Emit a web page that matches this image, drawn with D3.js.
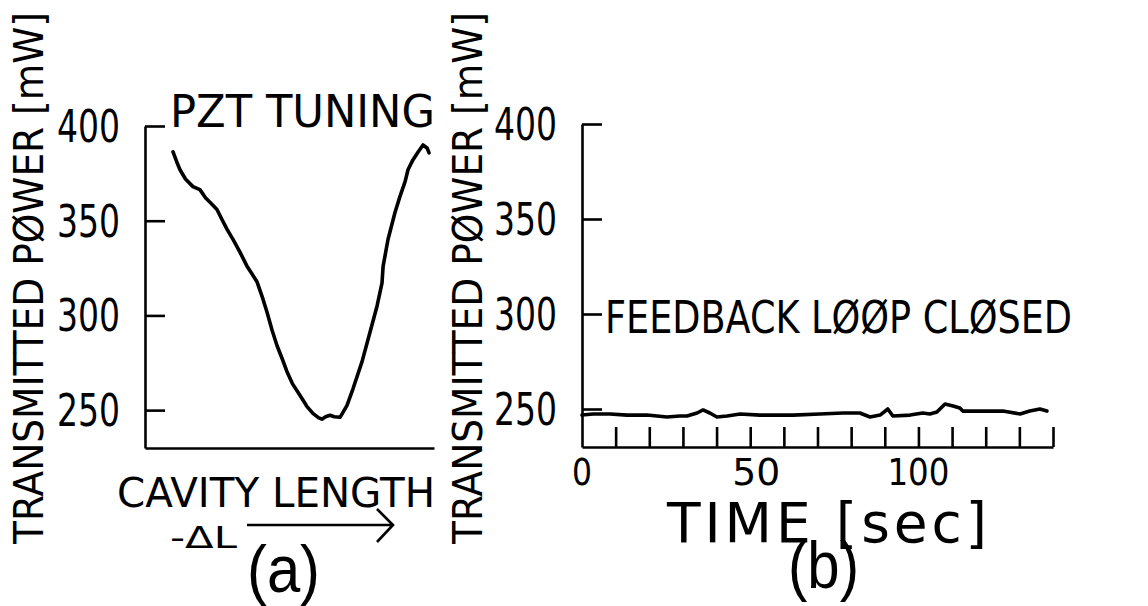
<!DOCTYPE html>
<html>
<head>
<meta charset="utf-8">
<script src="https://cdn.jsdelivr.net/npm/d3@7"></script>
<style>
  body { margin: 0; background: #fff; }
  svg { display: block; background: #fff; }
  text { font-family: 'DejaVu Sans', sans-serif; fill: #000; }
</style>
</head>
<body>
<svg></svg>
<script>
// Transmitted power: (a) PZT tuning scan, (b) feedback loop closed
const SVG = d3.select('svg');
const SVG_WIDTH = 1148;
const SVG_HEIGHT = 606;

// Data
// (a) cavity length in arbitrary units (0..100 across the axis) and power [mW]
const lengthA = [9.7, 11, 12.1, 14, 16.6, 19.0, 21, 23, 24.9, 26.5, 28.4, 30.5, 32.9, 35.3, 37, 38.8,
  40.8, 42.2, 44, 45.7, 47.5, 49.1, 51, 53.6, 56, 58.1, 60, 61.2, 62.5, 64.0, 65.5, 67.5, 69.9, 72.0,
  75.1, 77.9, 80.3, 82.0, 82.4, 84.1, 86.5, 88.2, 90.0, 91.0, 92.7, 94.5, 96.2, 97.6, 98.3];
const powerA = [386.3, 381, 376.9, 372, 368, 366.4, 362, 359, 355.9, 351, 345.4, 340, 333.3, 326, 322, 317.6,
  308.7, 301.8, 292, 284, 277, 270.4, 264, 257.8, 252, 248.3, 246, 245.2, 246.5, 247.3, 246.5, 246.2, 252.5, 261.4,
  275.6, 291.4, 305, 317, 326, 340.2, 354.3, 362.7, 370.6, 376.9, 382.1, 386.3, 390, 388.4, 385.8];
// (b) time [sec] and power [mW]
const timeB = [0, 3.3, 8.3, 13.4, 19.3, 25.3, 29.1, 31.2, 34.2, 36.0, 38.0, 40.1, 43.1, 47.0, 52.9, 62.7,
  70.7, 77.6, 82.6, 85.6, 88.6, 90.9, 92.4, 97.5, 101.3, 103.4, 105.5, 107.9, 110.3, 112.3, 113.2, 118.3,
  125.1, 130.2, 133.1, 136.1, 138.2];
const powerB = [246.8, 247.4, 247.4, 246.8, 246.8, 245.8, 246.3, 246.3, 247.9, 249.5, 247.9, 245.8, 246.3, 247.4, 246.8, 246.8,
  247.4, 247.9, 247.9, 245.8, 246.8, 250, 246.3, 246.8, 247.9, 247.4, 248.4, 252.6, 251.6, 250.5, 248.9, 248.9,
  248.9, 247.4, 248.9, 250, 248.9];

// Ticks
const powerTicks = [250, 300, 350, 400];
const timeTicks = [10, 20, 30, 40, 50, 60, 70, 80, 90, 100, 110, 120, 130, 140];
const timeLabels = [0, 50, 100];
const timeLabelWidths = [20, 48, 62];

SVG.attr('width', SVG_WIDTH).attr('height', SVG_HEIGHT);

//Scales
var xA = d3.scaleLinear().domain([0, 100]).range([145, 434]);
var yA = d3.scaleLinear().domain([230, 400]).range([448, 126]);
var xB = d3.scaleLinear().domain([0, 140]).range([582, 1053]);
var yB = d3.scaleLinear().domain([230, 400]).range([447, 124]);

function styleAxis(g) {
  g.selectAll('path, line').attr('stroke', '#000').attr('stroke-width', 2.6);
  g.selectAll('text').remove();
}

function powerLabels(g, yScale, axisX) {
  powerTicks.forEach(v => {
    g.append('text')
      .attr('x', axisX - 25)
      .attr('y', yScale(v) + 16)
      .attr('text-anchor', 'end')
      .attr('font-size', 44)
      .attr('textLength', 63)
      .attr('lengthAdjust', 'spacingAndGlyphs')
      .text(v);
  });
}

//Panel (a)
var panelA = SVG.append('g');
panelA.append('g').attr('transform', 'translate(145,0)')
  .call(d3.axisLeft(yA).tickValues(powerTicks).tickSize(-20).tickSizeOuter(0))
  .call(styleAxis);
panelA.append('g').attr('transform', 'translate(0,448)')
  .call(d3.axisBottom(xA).tickValues([]).tickSizeOuter(0))
  .call(styleAxis);
powerLabels(panelA, yA, 145);

panelA.append('path')
  .datum(d3.zip(lengthA, powerA))
  .attr('fill', 'none')
  .attr('stroke', '#000')
  .attr('stroke-width', 3.6)
  .attr('stroke-linejoin', 'round')
  .attr('stroke-linecap', 'round')
  .attr('d', d3.line().x(d => xA(d[0])).y(d => yA(d[1])));

panelA.append('text').attr('x', 170).attr('y', 127)
  .attr('font-size', 44).attr('textLength', 265).attr('lengthAdjust', 'spacingAndGlyphs')
  .text('PZT TUNING');
panelA.append('text').attr('x', 117).attr('y', 507)
  .attr('font-size', 41).attr('textLength', 318).attr('lengthAdjust', 'spacingAndGlyphs')
  .text('CAVITY LENGTH');
panelA.append('text').attr('x', 170).attr('y', 548)
  .attr('font-size', 30).attr('textLength', 67).attr('lengthAdjust', 'spacingAndGlyphs')
  .text('-ΔL');
panelA.append('path')
  .attr('d', 'M247,525H393M377,509L393,525L377,542')
  .attr('fill', 'none').attr('stroke', '#000').attr('stroke-width', 2.6);
panelA.append('text').attr('x', 247).attr('y', 592)
  .style('font-family', "'Liberation Sans', sans-serif")
  .attr('font-size', 66).attr('textLength', 73).attr('lengthAdjust', 'spacingAndGlyphs')
  .text('(a)');

//Panel (b)
var panelB = SVG.append('g');
panelB.append('g').attr('transform', 'translate(582,0)')
  .call(d3.axisLeft(yB).tickValues(powerTicks).tickSize(-20).tickSizeOuter(0))
  .call(styleAxis);
panelB.append('g').attr('transform', 'translate(0,447)')
  .call(d3.axisBottom(xB).tickValues(timeTicks).tickSize(-20).tickSizeOuter(0))
  .call(styleAxis);
powerLabels(panelB, yB, 582);

timeLabels.forEach((t, i) => {
  panelB.append('text')
    .attr('x', xB(t) + (t === 50 ? 6 : 0))
    .attr('y', 485)
    .attr('text-anchor', 'middle')
    .attr('font-size', 38)
    .attr('textLength', timeLabelWidths[i])
    .attr('lengthAdjust', 'spacingAndGlyphs')
    .text(t);
});

panelB.append('path')
  .datum(d3.zip(timeB, powerB))
  .attr('fill', 'none')
  .attr('stroke', '#000')
  .attr('stroke-width', 3.6)
  .attr('stroke-linejoin', 'round')
  .attr('stroke-linecap', 'round')
  .attr('d', d3.line().x(d => xB(d[0])).y(d => yB(d[1])));

panelB.append('text').attr('x', 605).attr('y', 333)
  .attr('font-size', 45).attr('textLength', 467).attr('lengthAdjust', 'spacingAndGlyphs')
  .text('FEEDBACK LØØP CLØSED');
panelB.append('text').attr('x', 667).attr('y', 542)
  .attr('font-size', 55).attr('textLength', 320).attr('lengthAdjust', 'spacing')
  .text('TIME [sec]');
panelB.append('text').attr('x', 788).attr('y', 588)
  .style('font-family', "'Liberation Sans', sans-serif")
  .attr('font-size', 66).attr('textLength', 71).attr('lengthAdjust', 'spacingAndGlyphs')
  .text('(b)');

//Y axis titles
[43, 482].forEach(x => {
  SVG.append('text')
    .attr('transform', `translate(${x},544) rotate(-90)`)
    .attr('font-size', 41)
    .attr('textLength', 532)
    .attr('lengthAdjust', 'spacingAndGlyphs')
    .text('TRANSMITTED PØWER [mW]');
});
</script>
</body>
</html>
